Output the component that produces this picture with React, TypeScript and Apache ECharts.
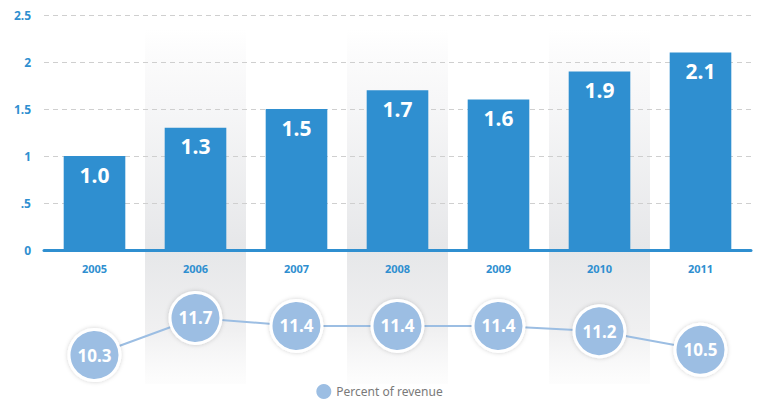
import React, { useEffect, useRef } from "react";
import * as echarts from "echarts";

const years = ["2005", "2006", "2007", "2008", "2009", "2010", "2011"];
const amounts = [1.0, 1.3, 1.5, 1.7, 1.6, 1.9, 2.1];
const percentOfRevenue = [10.3, 11.7, 11.4, 11.4, 11.4, 11.2, 10.5];
const yTicks = [0, 0.5, 1, 1.5, 2, 2.5];
const shadedYears = ["2006", "2008", "2010"];

const BLUE = "#2f8fd0";
const LIGHT = "#9cbee3";

export default function App() {
  const ref = useRef<HTMLDivElement>(null);
  useEffect(() => {
    if (!ref.current) return;
    document.body.style.margin = "0";
    const chart = echarts.init(ref.current, undefined, { renderer: "svg" });
    const font = "'Noto Sans', 'Open Sans', sans-serif";
    chart.setOption({
      animation: false,
      textStyle: { fontFamily: font },
      grid: [
        { left: 44, right: 8, top: 15, bottom: 152 },
        { left: 44, right: 8, top: 310, bottom: 39 },
      ],
      legend: {
        top: 379,
        left: "center",
        icon: "circle",
        itemWidth: 15,
        itemHeight: 15,
        itemGap: 8,
        data: [{ name: "Percent of revenue", itemStyle: { borderWidth: 0, color: LIGHT } }],
        textStyle: { color: "#7a7a7a", fontSize: 12, fontFamily: font },
      },
      xAxis: [
        {
          type: "category",
          gridIndex: 0,
          data: years,
          axisLine: { lineStyle: { color: BLUE, width: 3 } },
          axisTick: { show: false },
          axisLabel: { color: BLUE, fontWeight: "bold", fontSize: 11, margin: 13 },
        },
        {
          type: "category",
          gridIndex: 1,
          data: years,
          show: false,
        },
      ],
      yAxis: [
        {
          type: "value",
          gridIndex: 0,
          min: 0,
          max: 2.5,
          interval: 0.5,
          axisLine: { show: false },
          axisTick: { show: false },
          splitLine: { lineStyle: { color: "#cfcfcf", type: [5, 4], width: 1 } },
          axisLabel: {
            color: BLUE,
            fontWeight: "bold",
            fontSize: 12,
            margin: 13,
            formatter: (v: number) => {
              const t = yTicks.find((x) => Math.abs(x - v) < 1e-9);
              if (t === undefined) return "";
              if (t === 0.5) return ".5";
              return String(t);
            },
          },
        },
        {
          type: "value",
          gridIndex: 1,
          min: 10,
          max: 12,
          show: false,
        },
      ],
      series: [
        {
          type: "bar",
          xAxisIndex: 0,
          yAxisIndex: 0,
          data: amounts,
          barWidth: "61%",
          itemStyle: { color: BLUE },
          z: 3,
          label: {
            show: true,
            position: "insideTop",
            distance: 8,
            color: "#ffffff",
            fontSize: 21,
            fontWeight: "bold",
            fontFamily: font,
            formatter: (p: any) => Number(p.value).toFixed(1),
          },
        },
        {
          name: "Percent of revenue",
          type: "line",
          xAxisIndex: 1,
          yAxisIndex: 1,
          data: percentOfRevenue,
          symbol: "circle",
          symbolSize: 51,
          z: 3,
          lineStyle: { color: LIGHT, width: 2 },
          itemStyle: {
            color: LIGHT,
            borderColor: "#ffffff",
            borderWidth: 3,
            shadowColor: "rgba(0,0,0,0.18)",
            shadowBlur: 4,
          },
          label: {
            show: true,
            position: "inside",
            color: "#ffffff",
            fontSize: 17,
            fontWeight: "bold",
            fontFamily: font,
            formatter: (p: any) => Number(p.value).toFixed(1),
          },
        },
      ],
    });

    // Shaded column bands derived from the category axis scale
    const p0 = chart.convertToPixel({ xAxisIndex: 0 }, years[0]) as number;
    const p1 = chart.convertToPixel({ xAxisIndex: 0 }, years[1]) as number;
    const band = p1 - p0;
    const topY = chart.convertToPixel({ yAxisIndex: 0 }, 2.35) as number;
    const bottomY = (chart.convertToPixel({ yAxisIndex: 1 }, 10) as number) + 21;
    const elements = shadedYears.map((y) => {
      const cx = chart.convertToPixel({ xAxisIndex: 0 }, y) as number;
      return {
        type: "rect",
        z: -10,
        silent: true,
        shape: { x: cx - band / 2, y: topY, width: band, height: bottomY - topY },
        style: {
          fill: new echarts.graphic.LinearGradient(0, 0, 0, 1, [
            { offset: 0, color: "rgba(245,245,246,0)" },
            { offset: 0.2, color: "#f7f7f8" },
            { offset: 0.62, color: "#e6e7e9" },
            { offset: 0.85, color: "#f0f0f1" },
            { offset: 1, color: "rgba(252,252,252,0.7)" },
          ]),
        },
      };
    });
    chart.setOption({ graphic: { elements } });

    return () => chart.dispose();
  }, []);
  return <div ref={ref} style={{ width: 759, height: 402 }} />;
}
